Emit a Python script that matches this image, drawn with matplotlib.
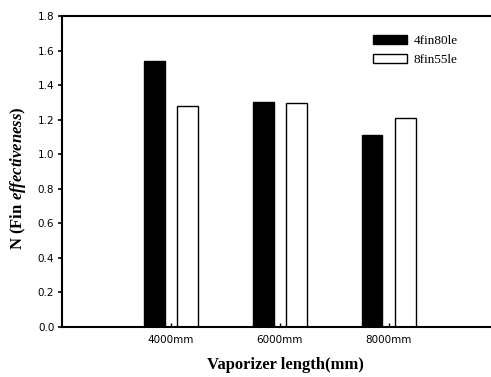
import matplotlib
matplotlib.use("Agg")
import matplotlib.pyplot as plt
import numpy as np

plt.rcParams["mathtext.fontset"] = "custom"
plt.rcParams["mathtext.rm"] = "Liberation Serif:bold"
plt.rcParams["mathtext.it"] = "Liberation Serif:italic:bold"
plt.rcParams["mathtext.bf"] = "Liberation Serif:bold"

categories = ["4000mm", "6000mm", "8000mm"]
series_names = ["4fin80le", "8fin55le"]
fin4 = [1.54, 1.30, 1.11]
fin8 = [1.28, 1.295, 1.21]
yticks = [0.0, 0.2, 0.4, 0.6, 0.8, 1.0, 1.2, 1.4, 1.6, 1.8]

W, H = 491, 377
fig = plt.figure(figsize=(W / 100, H / 100), dpi=100)
ax = fig.add_axes([62 / W, 1 - 327 / H, 1 - 62 / W + 0.002, (327 - 16) / H])

x = np.arange(len(categories))
bw = 0.19
off = 0.152
ax.bar(x - off, fin4, width=bw, color="black", edgecolor="black", linewidth=1.0, label=series_names[0])
ax.bar(x + off, fin8, width=bw, color="white", edgecolor="black", linewidth=1.0, label=series_names[1])

ax.set_xlim(-1, (491 - 171) / 108.5)
ax.set_ylim(0, 1.8)
ax.set_yticks(yticks)
ax.set_yticklabels([f"{v:.1f}" for v in yticks], fontsize=7.5, family="DejaVu Sans")
ax.set_xticks(x)
ax.set_xticklabels(categories, fontsize=7.5, family="DejaVu Sans")
ax.tick_params(axis="y", direction="out", length=3, width=1.2, pad=2.5)
ax.tick_params(axis="x", direction="in", length=3, width=1.0, pad=6)

for s in ["left", "top", "bottom"]:
    ax.spines[s].set_linewidth(1.5)
ax.spines["right"].set_visible(False)

ax.set_xlabel("Vaporizer length(mm)", fontsize=12, family="Liberation Serif", fontweight="bold")
ax.xaxis.set_label_coords((285 - 62) / (W - 62), -(357 - 327) / (327 - 16))
ax.set_ylabel(r"N (Fin$\ \it{effectiveness}$)", fontsize=12, family="Liberation Serif", fontweight="bold")
ax.yaxis.set_label_coords(-(62 - 28) / (W - 62), 1 - (178 - 16) / (327 - 16))

leg = ax.legend(loc="upper left", bbox_to_anchor=((372 - 62) / (W - 62), 1 - (35 - 16) / (327 - 16)),
                frameon=False, prop={"family": "Liberation Serif", "size": 9.5},
                handlelength=2.6, handleheight=0.7, handletextpad=0.5, labelspacing=0.5,
                borderaxespad=0, borderpad=0)

fig.savefig("out.png", dpi=100)
